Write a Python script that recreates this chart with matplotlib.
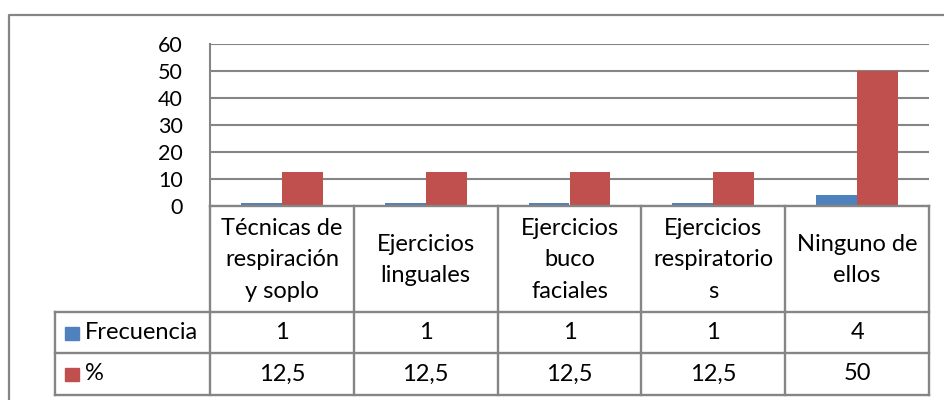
import matplotlib.pyplot as plt
import matplotlib.transforms as mtransforms
import numpy as np

# data
categorias = ["Técnicas de\nrespiración\ny soplo", "Ejercicios\nlinguales",
              "Ejercicios\nbuco\nfaciales", "Ejercicios\nrespiratorio\ns",
              "Ninguno de\nellos"]
frecuencia = [1, 1, 1, 1, 4]
porcentaje = [12.5, 12.5, 12.5, 12.5, 50]
series = ["Frecuencia", "%"]
colores = ["#4F81BD", "#C0504D"]
yticks = [0, 10, 20, 30, 40, 50, 60]

W, H = 944, 400
plt.rcParams['font.family'] = ['Lato', 'DejaVu Sans']
fig = plt.figure(figsize=(W / 100, H / 100), dpi=100)

# pixel geometry of the plot area and table
px_left, px_right, px_top, px_zero = 210, 929, 44, 206
row1, row2, row3 = 312, 353, 395
tab_left = 55
gris = "#858585"

ax = fig.add_axes([px_left / W, 1 - px_zero / H,
                   (px_right - px_left) / W, (px_zero - px_top) / H])
x = np.arange(len(categorias))
bw = 0.285
ax.bar(x - bw / 2, frecuencia, bw, color=colores[0], zorder=3)
ax.bar(x + bw / 2, porcentaje, bw, color=colores[1], zorder=3)
ax.set_xlim(-0.5, len(categorias) - 0.5)
ax.set_ylim(0, 60)
ax.set_yticks(yticks)
ax.set_xticks([])
ax.tick_params(axis='y', length=0, pad=19.5, labelsize=15.5)
ax.grid(axis='y', color=gris, linewidth=1.5, zorder=0)
for s in ['top', 'right', 'bottom']:
    ax.spines[s].set_visible(False)
ax.spines['left'].set_color(gris)
ax.spines['left'].set_linewidth(1.5)
ax.set_facecolor('none')

# overlay in pixel coordinates for border and data table
ov = fig.add_axes([0, 0, 1, 1], zorder=5)
ov.set_xlim(0, W)
ov.set_ylim(H, 0)
ov.set_axis_off()
bt = mtransforms.blended_transform_factory(ax.transData, ov.transData)

# outer chart border
ov.plot([9, 9, W], [H, 15, 15], color=gris, lw=1.6, clip_on=False)

lw = 1.7
# horizontal table lines
ov.plot([px_left, px_right], [px_zero, px_zero], color=gris, lw=lw)
for yy in (row1, row2, row3):
    ov.plot([tab_left, px_right], [yy, yy], color=gris, lw=lw)
ov.plot([tab_left, tab_left], [row1, row3], color=gris, lw=lw)
# vertical column lines
for i in range(len(categorias) + 1):
    ov.plot([i - 0.5, i - 0.5], [px_zero, row3], color=gris, lw=lw, transform=bt)

fs = 17
for i, cat in enumerate(categorias):
    ov.text(i, (px_zero + row1) / 2 + 1, cat, transform=bt, ha='center',
            va='center', fontsize=fs, linespacing=1.6)


def fmt(v):
    return f"{v:g}".replace('.', ',')


for j, vals in enumerate([frecuencia, porcentaje]):
    yc = [(row1 + row2) / 2, (row2 + row3) / 2][j]
    for i, v in enumerate(vals):
        ov.text(i, yc, fmt(v), transform=bt, ha='center', va='center', fontsize=fs)
    ov.add_patch(plt.Rectangle((65, yc - 6), 14, 13, color=colores[j]))
    ov.text(85, yc, series[j], ha='left', va='center', fontsize=fs)

fig.savefig("out.png", dpi=100)
